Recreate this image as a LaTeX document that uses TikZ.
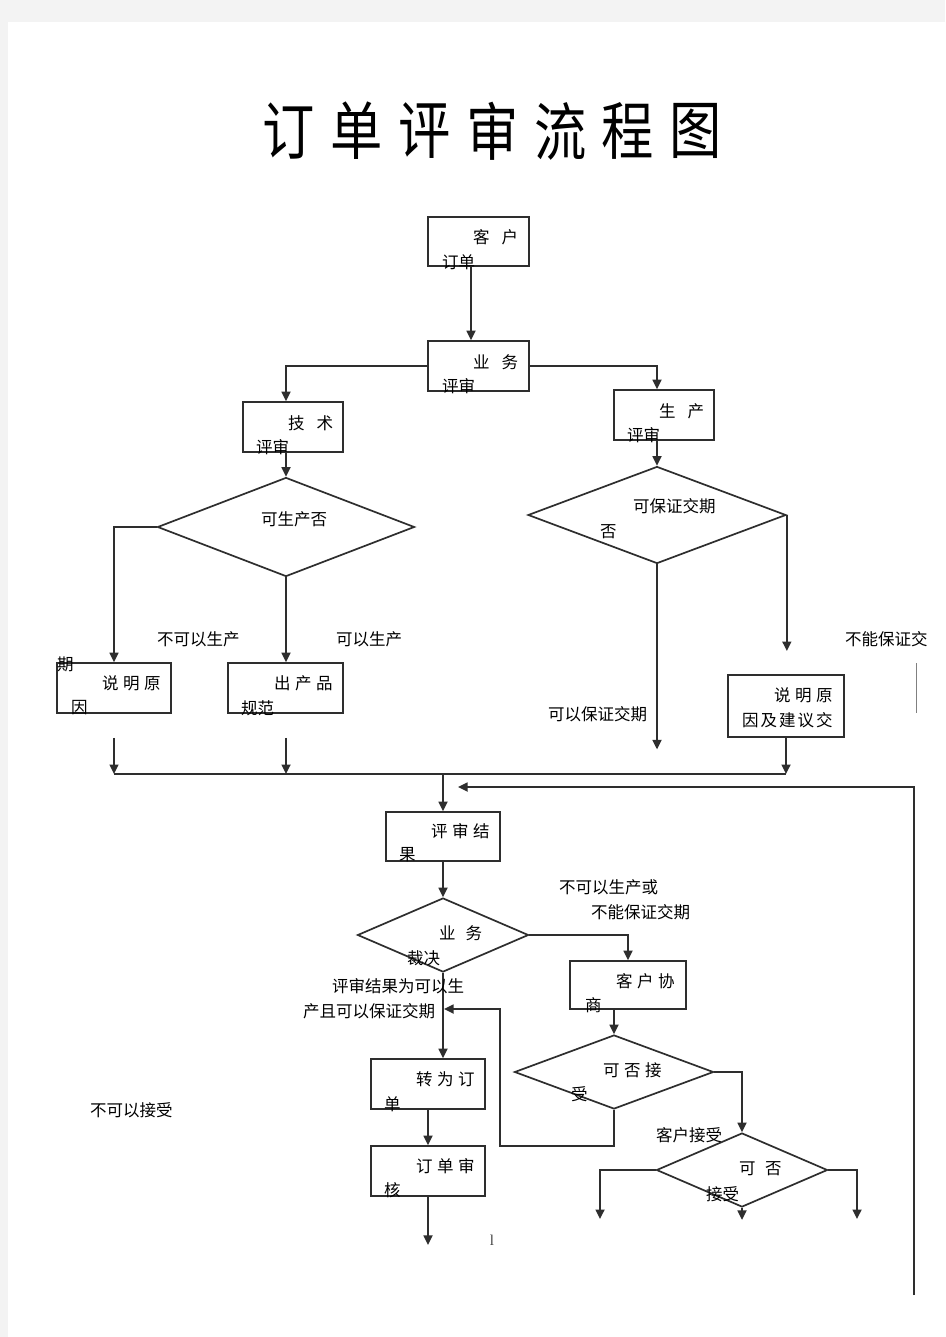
\documentclass[tikz,border=0pt]{standalone}
\usepackage{fontspec}
\setmainfont{Noto Sans CJK SC}
\newfontfamily\titlefont[FakeStretch=0.83]{Noto Sans CJK SC}
\newfontfamily\pgnumfont{Liberation Serif}
\usetikzlibrary{arrows.meta,shapes.geometric}
\definecolor{pagegrey}{HTML}{F3F3F3}
\definecolor{lncol}{HTML}{2E2E2E}
\newcommand{\gp}[1]{\hspace{#1pt}}
\begin{document}
\begin{tikzpicture}[x=1pt,y=-1pt,
  box/.style={draw=lncol, line width=1.7pt, rectangle, inner sep=0pt},
  dia/.style={draw=lncol, line width=1.7pt, diamond, inner sep=0pt},
  lbl/.style={anchor=west, inner sep=0pt, font=\fontsize{16.5}{16.5}\selectfont},
  titlech/.style={inner sep=0pt, font=\titlefont\fontsize{63}{63}\selectfont},
  conn/.style={draw=lncol, line width=1.7pt},
  arr/.style={draw=lncol, line width=1.7pt, -{Triangle[length=9.5pt,width=9pt]}}]
\useasboundingbox (0,0) rectangle (945,1337);
\fill[pagegrey] (0,0) rectangle (945,1337);
\fill[white] (8,22) rectangle (945,1337);

% title
\foreach \c [count=\i from 0] in {订,单,评,审,流,程,图}
  \node[titlech] (title\i) at (289+67.8*\i,131) {\c};

% column coordinates
\coordinate (cA) at (471,0);
\coordinate (cT) at (286,0);
\coordinate (cP) at (657,0);
\coordinate (jn) at (0,774);

% boxes
\node[box, minimum width=101pt, minimum height=49pt] (b1) at (478.5,241.5) {};
\node[box, minimum width=101pt, minimum height=50pt] (b2) at (478.5,366) {};
\node[box, minimum width=100pt, minimum height=50pt] (b3) at (293,427) {};
\node[box, minimum width=100pt, minimum height=50pt] (b4) at (664,415) {};
\node[box, minimum width=114pt, minimum height=50pt] (b5) at (114,688) {};
\node[box, minimum width=115pt, minimum height=50pt] (b6) at (285.5,688) {};
\node[box, minimum width=116pt, minimum height=62pt] (b7) at (786,706) {};
\node[box, minimum width=114pt, minimum height=49pt] (b8) at (443,836.5) {};
\node[box, minimum width=116pt, minimum height=48pt] (b9) at (628,985) {};
\node[box, minimum width=114pt, minimum height=50pt] (b10) at (428,1084) {};
\node[box, minimum width=114pt, minimum height=50pt] (b11) at (428,1171) {};

% diamonds
\node[dia, minimum width=257pt, minimum height=99pt] (d1) at (286,527) {};
\node[dia, minimum width=258pt, minimum height=97pt] (d2) at (657,515) {};
\node[dia, minimum width=171pt, minimum height=74pt] (d3) at (443,935) {};
\node[dia, minimum width=199pt, minimum height=74pt] (d4) at (614,1072) {};
\node[dia, minimum width=171pt, minimum height=74pt] (d5) at (742,1170) {};

% free coordinates
\coordinate (fb) at (914,1295);
\coordinate (fbt) at (458,787);
\coordinate (lp1) at (500,1146);
\coordinate (lpt) at (444,1009);
\coordinate (e1) at (600,1219);
\coordinate (e2) at (857,1219);

% connectors
\draw[arr] (b1.south -| cA) -- (b2.north -| cA);
\draw[arr] (b2.west) -| (b3.north -| cT);
\draw[arr] (b2.east) -| (b4.north -| cP);
\draw[arr] (b3.south -| cT) -- (d1.north);
\draw[arr] (d1.west) -| (b5.north);
\draw[arr] (d1.south) -- (d1.south |- b6.north);
\draw[arr] ([yshift=-24pt]b5.south) -- (b5.south |- jn);
\draw[arr] ([yshift=-24pt]b6.south -| d1.south) -- (d1.south |- jn);
\draw[conn] (b5.south |- jn) -- (b7.south |- jn);
\draw[arr] (b4.south -| cP) -- (d2.north);
\draw[arr] (d2.south) -- ++(0,185);
\draw[arr] (d2.east) -- ++(0,136);
\draw[arr] (b7.south) -- (b7.south |- jn);
\draw[draw=gray, line width=1pt] (916,663) -- (916,713);
\draw[arr] (b8.north |- jn) -- (b8.north);
\draw[arr] (fb) |- (fbt);
\draw[arr] (b8.south) -- (d3.north);
\draw[arr] (d3.east) -| (b9.north);
\draw[arr] (b9.south -| d4.north) -- (d4.north);
\draw[arr] (d3.south) -- (d3.south |- b10.north);
\draw[arr] (b10.south) -- (b11.north);
\draw[arr] (b11.south) -- ++(0,48);
\draw[arr] (d4.south) |- (lp1) |- (lpt);
\draw[arr] (d4.east) -| (d5.north);
\draw[arr] (d5.west) -| (e1);
\draw[arr] (d5.east) -| (e2);
\draw[arr] (d5.south) -- ++(0,12);

% labels
\node[lbl] (t1a) at (473,237) {客\gp{12}户};
\node[lbl] (t1b) at (442,262) {订单};
\node[lbl] (t2a) at (473,362) {业\gp{12}务};
\node[lbl] (t2b) at (442,386) {评审};
\node[lbl] (t3a) at (288,423) {技\gp{12}术};
\node[lbl] (t3b) at (256,447) {评审};
\node[lbl] (t4a) at (659,411) {生\gp{12}产};
\node[lbl] (t4b) at (627,435) {评审};
\node[lbl] (td1) at (261,519) {可生产否};
\node[lbl] (l1) at (157,639) {不可以生产};
\node[lbl] (l2) at (336,639) {可以生产};
\node[lbl] (t5c) at (57,664) {期};
\node[lbl] (t5a) at (102,683) {说\gp{4.5}明\gp{4.5}原};
\node[lbl] (t5b) at (71,708) {因};
\node[lbl] (t6a) at (274,683) {出\gp{4.5}产\gp{4.5}品};
\node[lbl] (t6b) at (241,708) {规范};
\node[lbl] (td2a) at (633,506) {可保证交期};
\node[lbl] (td2b) at (600,532) {否};
\node[lbl] (l3) at (548,714) {可以保证交期};
\node[lbl] (l4) at (845,639) {不能保证交};
\node[lbl] (t7a) at (774,695) {说\gp{4.5}明\gp{4.5}原};
\node[lbl] (t7b) at (742,720) {因\gp{2}及\gp{2}建\gp{2}议\gp{2}交};
\node[lbl] (t8a) at (431,831) {评\gp{4.5}审\gp{4.5}结};
\node[lbl] (t8b) at (399,855) {果};
\node[lbl] (td3a) at (439,933) {业\gp{10}务};
\node[lbl] (td3b) at (407,958) {裁决};
\node[lbl] (l5) at (559,887) {不可以生产或};
\node[lbl] (l6) at (591,912) {不能保证交期};
\node[lbl] (t9a) at (616,981) {客\gp{4.5}户\gp{4.5}协};
\node[lbl] (t9b) at (585,1005) {商};
\node[lbl] (l7) at (332,986) {评审结果为可以生};
\node[lbl] (l8) at (303,1011) {产且可以保证交期};
\node[lbl] (td4a) at (603,1070) {可\gp{4.5}否\gp{4.5}接};
\node[lbl] (td4b) at (571,1094) {受};
\node[lbl] (t10a) at (416,1079) {转\gp{4.5}为\gp{4.5}订};
\node[lbl] (t10b) at (384,1104) {单};
\node[lbl] (t11a) at (416,1166) {订\gp{4.5}单\gp{4.5}审};
\node[lbl] (t11b) at (384,1190) {核};
\node[lbl] (l9) at (656,1135) {客户接受};
\node[lbl] (td5a) at (739,1169) {可\gp{9.5}否};
\node[lbl] (td5b) at (706,1194) {接受};
\node[lbl] (l10) at (90,1110) {不可以接受};
\node[inner sep=0pt, font=\pgnumfont\fontsize{15}{15}\selectfont, text=black!75] (pg) at (492,1240) {l};
\end{tikzpicture}
\end{document}
